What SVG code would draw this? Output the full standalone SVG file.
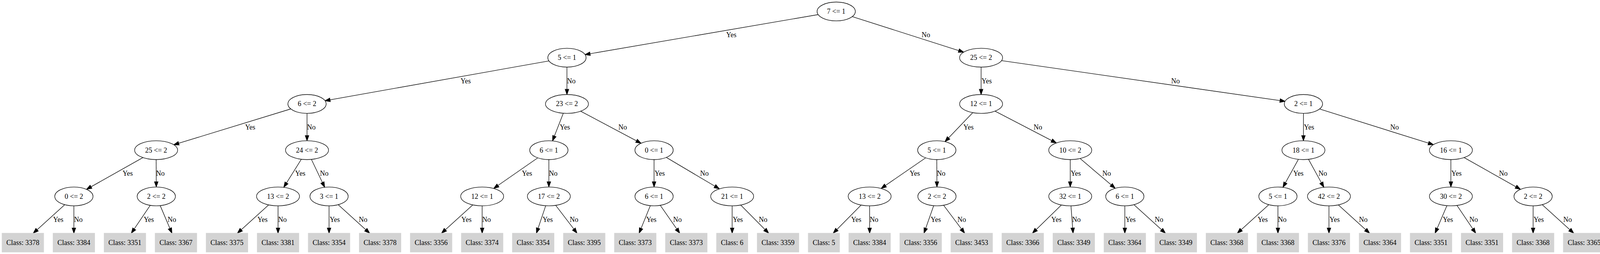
<svg xmlns="http://www.w3.org/2000/svg" width="4114" height="649" viewBox="0 0 4114 649">
<style>
.n ellipse{fill:#ffffff;stroke:#000000;stroke-width:1.33}
.l rect{fill:#d3d3d3;stroke:#d3d3d3;stroke-width:1.33}
text{font-family:"Liberation Serif","Times New Roman",serif;font-size:18px;fill:#000000;text-anchor:middle}
#edges line{stroke:#000000;stroke-width:1.33;fill:none;marker-end:url(#ah)}
</style>
<defs>
<marker id="ah" markerUnits="userSpaceOnUse" viewBox="-2 -7 18 14" markerWidth="18" markerHeight="14" refX="13.33" refY="0" orient="auto" overflow="visible">
<path d="M0,-4.67 L13.33,0 L0,4.67 Z" fill="#000000" stroke="#000000" stroke-width="1.33"/>
</marker>
</defs>
<rect x="0" y="0" width="4114" height="649" fill="#ffffff"/>
<g transform="matrix(1 0 0 1.002376 0 0.0606)">
<g id="edges">
<line x1="2094.7" y1="37.07" x2="1497.4" y2="139.18"/>
<line x1="2181.6" y1="42.2" x2="2467.2" y2="132.94"/>
<line x1="1405.6" y1="155.17" x2="831.8" y2="256.78"/>
<line x1="1451.4" y1="171.05" x2="1451.4" y2="240.9"/>
<line x1="2511.6" y1="171.05" x2="2511.6" y2="240.9"/>
<line x1="2563.8" y1="154.5" x2="3290.0" y2="258.22"/>
<line x1="744.6" y1="277.53" x2="444.7" y2="369.01"/>
<line x1="786" y1="288.9" x2="786" y2="358.75"/>
<line x1="1442.1" y1="288.55" x2="1414.4" y2="359.19"/>
<line x1="1486.4" y1="283.39" x2="1641.2" y2="365.2"/>
<line x1="2490.3" y1="287.02" x2="2419.1" y2="361.06"/>
<line x1="2547.1" y1="283.22" x2="2704.3" y2="364.43"/>
<line x1="3336.8" y1="288.9" x2="3336.8" y2="358.75"/>
<line x1="3377.9" y1="277.74" x2="3669.6" y2="368.8"/>
<line x1="365.9" y1="401.67" x2="221.4" y2="482.59"/>
<line x1="399.7" y1="406.75" x2="400.1" y2="476.6"/>
<line x1="771.4" y1="405.89" x2="726.4" y2="477.46"/>
<line x1="797.2" y1="406.24" x2="831.2" y2="477.24"/>
<line x1="1376.8" y1="402.28" x2="1263.8" y2="480.32"/>
<line x1="1405.1" y1="406.75" x2="1405.1" y2="476.6"/>
<line x1="1674.4" y1="406.75" x2="1674.4" y2="476.6"/>
<line x1="1705.6" y1="401.16" x2="1841.6" y2="481.32"/>
<line x1="2369.8" y1="402.23" x2="2255.7" y2="480.37"/>
<line x1="2398.2" y1="406.75" x2="2398.6" y2="476.6"/>
<line x1="2739.8" y1="406.75" x2="2739.8" y2="476.6"/>
<line x1="2765.1" y1="404.05" x2="2854.9" y2="479.89"/>
<line x1="3323.9" y1="406.08" x2="3284.2" y2="477.44"/>
<line x1="3349.8" y1="406.07" x2="3389.1" y2="477.28"/>
<line x1="3714.3" y1="406.75" x2="3714.3" y2="476.6"/>
<line x1="3748.1" y1="401.66" x2="3892.5" y2="482.59"/>
<line x1="165.8" y1="521.66" x2="85.1" y2="594.45"/>
<line x1="189.15" y1="524.6" x2="189.15" y2="594.45"/>
<line x1="384.6" y1="523.35" x2="336.2" y2="594.45"/>
<line x1="410.1" y1="524.08" x2="440.2" y2="594.45"/>
<line x1="687.8" y1="522.2" x2="607.7" y2="594.45"/>
<line x1="711.75" y1="524.6" x2="711.75" y2="594.45"/>
<line x1="842.4" y1="524.6" x2="842.4" y2="594.45"/>
<line x1="865.75" y1="521.66" x2="946.4" y2="594.45"/>
<line x1="1210.4" y1="522.2" x2="1130.3" y2="594.45"/>
<line x1="1234.35" y1="524.6" x2="1234.35" y2="594.45"/>
<line x1="1397.0" y1="524.34" x2="1373.2" y2="594.45"/>
<line x1="1422.6" y1="523.35" x2="1477.2" y2="594.45"/>
<line x1="1664.8" y1="524.13" x2="1636.1" y2="594.45"/>
<line x1="1690.3" y1="523.28" x2="1740.1" y2="594.45"/>
<line x1="1874.35" y1="524.6" x2="1874.35" y2="594.45"/>
<line x1="1896.3" y1="522.61" x2="1967.8" y2="594.45"/>
<line x1="2204.4" y1="522.61" x2="2133.0" y2="594.45"/>
<line x1="2226.3" y1="524.6" x2="2226.3" y2="594.45"/>
<line x1="2390.2" y1="524.24" x2="2365.4" y2="594.45"/>
<line x1="2415.6" y1="523.1" x2="2469.5" y2="594.45"/>
<line x1="2717.2" y1="522.48" x2="2643.0" y2="594.45"/>
<line x1="2741.65" y1="524.59" x2="2747.05" y2="594.45"/>
<line x1="2879.55" y1="524.6" x2="2879.55" y2="594.45"/>
<line x1="2902.9" y1="521.66" x2="2983.6" y2="594.45"/>
<line x1="3248.15" y1="521.66" x2="3167.5" y2="594.45"/>
<line x1="3271.5" y1="524.6" x2="3271.5" y2="594.45"/>
<line x1="3402.15" y1="524.6" x2="3402.15" y2="594.45"/>
<line x1="3426.1" y1="522.2" x2="3506.2" y2="594.45"/>
<line x1="3704.1" y1="524.18" x2="3673.8" y2="594.45"/>
<line x1="3729.9" y1="523.62" x2="3777.85" y2="594.45"/>
<line x1="3924.75" y1="524.6" x2="3924.75" y2="594.45"/>
<line x1="3948.1" y1="521.66" x2="4028.8" y2="594.45"/>
</g>
<g id="edge-labels">
<text x="1872.1" y="94.3">Yes</text>
<text x="2370.3" y="94.3">No</text>
<text x="1192.2" y="212.1">Yes</text>
<text x="1462.5" y="212.1">No</text>
<text x="2525.8" y="212.1">Yes</text>
<text x="3009.2" y="212.1">No</text>
<text x="640.5" y="330">Yes</text>
<text x="797.1" y="330">No</text>
<text x="1446.1" y="330">Yes</text>
<text x="1593.9" y="330">No</text>
<text x="2479.4" y="330">Yes</text>
<text x="2657.1" y="330">No</text>
<text x="3351.2" y="330">Yes</text>
<text x="3570.1" y="330">No</text>
<text x="326.8" y="447.8">Yes</text>
<text x="410.6" y="447.8">No</text>
<text x="768.6" y="447.8">Yes</text>
<text x="830" y="447.8">No</text>
<text x="1349.2" y="447.8">Yes</text>
<text x="1416.2" y="447.8">No</text>
<text x="1688.8" y="447.8">Yes</text>
<text x="1803.2" y="447.8">No</text>
<text x="2341.8" y="447.8">Yes</text>
<text x="2409.3" y="447.8">No</text>
<text x="2754" y="447.8">Yes</text>
<text x="2833.1" y="447.8">No</text>
<text x="3323.8" y="447.8">Yes</text>
<text x="3386.2" y="447.8">No</text>
<text x="3728.6" y="447.8">Yes</text>
<text x="3848.6" y="447.8">No</text>
<text x="149.1" y="565.7">Yes</text>
<text x="200.4" y="565.7">No</text>
<text x="381" y="565.7">Yes</text>
<text x="440.1" y="565.7">No</text>
<text x="672" y="565.7">Yes</text>
<text x="722.9" y="565.7">No</text>
<text x="857" y="565.7">Yes</text>
<text x="929.5" y="565.7">No</text>
<text x="1194.2" y="565.7">Yes</text>
<text x="1245.5" y="565.7">No</text>
<text x="1402.1" y="565.7">Yes</text>
<text x="1469.4" y="565.7">No</text>
<text x="1667.5" y="565.7">Yes</text>
<text x="1734.2" y="565.7">No</text>
<text x="1888.8" y="565.7">Yes</text>
<text x="1953.6" y="565.7">No</text>
<text x="2192" y="565.7">Yes</text>
<text x="2237.4" y="565.7">No</text>
<text x="2395.6" y="565.7">Yes</text>
<text x="2462" y="565.7">No</text>
<text x="2704.4" y="565.7">Yes</text>
<text x="2755.6" y="565.7">No</text>
<text x="2894.1" y="565.7">Yes</text>
<text x="2967.1" y="565.7">No</text>
<text x="3232.5" y="565.7">Yes</text>
<text x="3282.6" y="565.7">No</text>
<text x="3416.6" y="565.7">Yes</text>
<text x="3490" y="565.7">No</text>
<text x="3706.7" y="565.7">Yes</text>
<text x="3772.4" y="565.7">No</text>
<text x="3939.2" y="565.7">Yes</text>
<text x="4012.9" y="565.7">No</text>
</g>
<g id="n0" class="n"><ellipse cx="2140.7" cy="29.2" rx="49" ry="24"/><text x="2140.7" y="35">7 &lt;= 1</text></g>
<g id="n1" class="n"><ellipse cx="1451.4" cy="147.05" rx="49" ry="24"/><text x="1451.4" y="152.85">5 &lt;= 1</text></g>
<g id="n2" class="n"><ellipse cx="2511.6" cy="147.05" rx="55" ry="24"/><text x="2511.6" y="152.85">25 &lt;= 2</text></g>
<g id="n3" class="n"><ellipse cx="786" cy="264.9" rx="49" ry="24"/><text x="786" y="270.7">6 &lt;= 2</text></g>
<g id="n4" class="n"><ellipse cx="1451.4" cy="264.9" rx="55" ry="24"/><text x="1451.4" y="270.7">23 &lt;= 2</text></g>
<g id="n5" class="n"><ellipse cx="2511.6" cy="264.9" rx="55" ry="24"/><text x="2511.6" y="270.7">12 &lt;= 1</text></g>
<g id="n6" class="n"><ellipse cx="3336.8" cy="264.9" rx="49" ry="24"/><text x="3336.8" y="270.7">2 &lt;= 1</text></g>
<g id="n7" class="n"><ellipse cx="399.7" cy="382.75" rx="55" ry="24"/><text x="399.7" y="388.55">25 &lt;= 2</text></g>
<g id="n8" class="n"><ellipse cx="786" cy="382.75" rx="55" ry="24"/><text x="786" y="388.55">24 &lt;= 2</text></g>
<g id="n9" class="n"><ellipse cx="1405.1" cy="382.75" rx="49" ry="24"/><text x="1405.1" y="388.55">6 &lt;= 1</text></g>
<g id="n10" class="n"><ellipse cx="1674.4" cy="382.75" rx="49" ry="24"/><text x="1674.4" y="388.55">0 &lt;= 1</text></g>
<g id="n11" class="n"><ellipse cx="2398.2" cy="382.75" rx="49" ry="24"/><text x="2398.2" y="388.55">5 &lt;= 1</text></g>
<g id="n12" class="n"><ellipse cx="2739.8" cy="382.75" rx="55" ry="24"/><text x="2739.8" y="388.55">10 &lt;= 2</text></g>
<g id="n13" class="n"><ellipse cx="3336.8" cy="382.75" rx="55" ry="24"/><text x="3336.8" y="388.55">18 &lt;= 1</text></g>
<g id="n14" class="n"><ellipse cx="3714.3" cy="382.75" rx="55" ry="24"/><text x="3714.3" y="388.55">16 &lt;= 1</text></g>
<g id="n15" class="n"><ellipse cx="189.15" cy="500.6" rx="49" ry="24"/><text x="189.15" y="506.4">0 &lt;= 2</text></g>
<g id="n16" class="n"><ellipse cx="400.1" cy="500.6" rx="49" ry="24"/><text x="400.1" y="506.4">2 &lt;= 2</text></g>
<g id="n17" class="n"><ellipse cx="711.75" cy="500.6" rx="55" ry="24"/><text x="711.75" y="506.4">13 &lt;= 2</text></g>
<g id="n18" class="n"><ellipse cx="842.4" cy="500.6" rx="49" ry="24"/><text x="842.4" y="506.4">3 &lt;= 1</text></g>
<g id="n19" class="n"><ellipse cx="1234.35" cy="500.6" rx="55" ry="24"/><text x="1234.35" y="506.4">12 &lt;= 1</text></g>
<g id="n20" class="n"><ellipse cx="1405.1" cy="500.6" rx="55" ry="24"/><text x="1405.1" y="506.4">17 &lt;= 2</text></g>
<g id="n21" class="n"><ellipse cx="1674.4" cy="500.6" rx="49" ry="24"/><text x="1674.4" y="506.4">6 &lt;= 1</text></g>
<g id="n22" class="n"><ellipse cx="1874.35" cy="500.6" rx="55" ry="24"/><text x="1874.35" y="506.4">21 &lt;= 1</text></g>
<g id="n23" class="n"><ellipse cx="2226.3" cy="500.6" rx="55" ry="24"/><text x="2226.3" y="506.4">13 &lt;= 2</text></g>
<g id="n24" class="n"><ellipse cx="2398.6" cy="500.6" rx="49" ry="24"/><text x="2398.6" y="506.4">2 &lt;= 2</text></g>
<g id="n25" class="n"><ellipse cx="2739.8" cy="500.6" rx="55" ry="24"/><text x="2739.8" y="506.4">32 &lt;= 1</text></g>
<g id="n26" class="n"><ellipse cx="2879.55" cy="500.6" rx="49" ry="24"/><text x="2879.55" y="506.4">6 &lt;= 1</text></g>
<g id="n27" class="n"><ellipse cx="3271.5" cy="500.6" rx="49" ry="24"/><text x="3271.5" y="506.4">5 &lt;= 1</text></g>
<g id="n28" class="n"><ellipse cx="3402.15" cy="500.6" rx="55" ry="24"/><text x="3402.15" y="506.4">42 &lt;= 2</text></g>
<g id="n29" class="n"><ellipse cx="3714.3" cy="500.6" rx="55" ry="24"/><text x="3714.3" y="506.4">30 &lt;= 2</text></g>
<g id="n30" class="n"><ellipse cx="3924.75" cy="500.6" rx="49" ry="24"/><text x="3924.75" y="506.4">2 &lt;= 2</text></g>
<g id="leaf0" class="l"><rect x="5.25" y="594.45" width="106.5" height="48"/><text x="58.5" y="624.25">Class: 3378</text></g>
<g id="leaf1" class="l"><rect x="135.9" y="594.45" width="106.5" height="48"/><text x="189.15" y="624.25">Class: 3384</text></g>
<g id="leaf2" class="l"><rect x="266.55" y="594.45" width="106.5" height="48"/><text x="319.8" y="624.25">Class: 3351</text></g>
<g id="leaf3" class="l"><rect x="397.2" y="594.45" width="106.5" height="48"/><text x="450.45" y="624.25">Class: 3367</text></g>
<g id="leaf4" class="l"><rect x="527.85" y="594.45" width="106.5" height="48"/><text x="581.1" y="624.25">Class: 3375</text></g>
<g id="leaf5" class="l"><rect x="658.5" y="594.45" width="106.5" height="48"/><text x="711.75" y="624.25">Class: 3381</text></g>
<g id="leaf6" class="l"><rect x="789.15" y="594.45" width="106.5" height="48"/><text x="842.4" y="624.25">Class: 3354</text></g>
<g id="leaf7" class="l"><rect x="919.8" y="594.45" width="106.5" height="48"/><text x="973.05" y="624.25">Class: 3378</text></g>
<g id="leaf8" class="l"><rect x="1050.45" y="594.45" width="106.5" height="48"/><text x="1103.7" y="624.25">Class: 3356</text></g>
<g id="leaf9" class="l"><rect x="1181.1" y="594.45" width="106.5" height="48"/><text x="1234.35" y="624.25">Class: 3374</text></g>
<g id="leaf10" class="l"><rect x="1311.75" y="594.45" width="106.5" height="48"/><text x="1365" y="624.25">Class: 3354</text></g>
<g id="leaf11" class="l"><rect x="1442.4" y="594.45" width="106.5" height="48"/><text x="1495.65" y="624.25">Class: 3395</text></g>
<g id="leaf12" class="l"><rect x="1573.05" y="594.45" width="106.5" height="48"/><text x="1626.3" y="624.25">Class: 3373</text></g>
<g id="leaf13" class="l"><rect x="1703.7" y="594.45" width="106.5" height="48"/><text x="1756.95" y="624.25">Class: 3373</text></g>
<g id="leaf14" class="l"><rect x="1834.35" y="594.45" width="80" height="48"/><text x="1874.35" y="624.25">Class: 6</text></g>
<g id="leaf15" class="l"><rect x="1938.5" y="594.45" width="106.5" height="48"/><text x="1991.75" y="624.25">Class: 3359</text></g>
<g id="leaf16" class="l"><rect x="2069.15" y="594.45" width="80" height="48"/><text x="2109.15" y="624.25">Class: 5</text></g>
<g id="leaf17" class="l"><rect x="2173.05" y="594.45" width="106.5" height="48"/><text x="2226.3" y="624.25">Class: 3384</text></g>
<g id="leaf18" class="l"><rect x="2303.7" y="594.45" width="106.5" height="48"/><text x="2356.95" y="624.25">Class: 3356</text></g>
<g id="leaf19" class="l"><rect x="2434.35" y="594.45" width="106.5" height="48"/><text x="2487.6" y="624.25">Class: 3453</text></g>
<g id="leaf20" class="l"><rect x="2565" y="594.45" width="106.5" height="48"/><text x="2618.25" y="624.25">Class: 3366</text></g>
<g id="leaf21" class="l"><rect x="2695.65" y="594.45" width="106.5" height="48"/><text x="2748.9" y="624.25">Class: 3349</text></g>
<g id="leaf22" class="l"><rect x="2826.3" y="594.45" width="106.5" height="48"/><text x="2879.55" y="624.25">Class: 3364</text></g>
<g id="leaf23" class="l"><rect x="2956.95" y="594.45" width="106.5" height="48"/><text x="3010.2" y="624.25">Class: 3349</text></g>
<g id="leaf24" class="l"><rect x="3087.6" y="594.45" width="106.5" height="48"/><text x="3140.85" y="624.25">Class: 3368</text></g>
<g id="leaf25" class="l"><rect x="3218.25" y="594.45" width="106.5" height="48"/><text x="3271.5" y="624.25">Class: 3368</text></g>
<g id="leaf26" class="l"><rect x="3348.9" y="594.45" width="106.5" height="48"/><text x="3402.15" y="624.25">Class: 3376</text></g>
<g id="leaf27" class="l"><rect x="3479.55" y="594.45" width="106.5" height="48"/><text x="3532.8" y="624.25">Class: 3364</text></g>
<g id="leaf28" class="l"><rect x="3610.2" y="594.45" width="106.5" height="48"/><text x="3663.45" y="624.25">Class: 3351</text></g>
<g id="leaf29" class="l"><rect x="3740.85" y="594.45" width="106.5" height="48"/><text x="3794.1" y="624.25">Class: 3351</text></g>
<g id="leaf30" class="l"><rect x="3871.5" y="594.45" width="106.5" height="48"/><text x="3924.75" y="624.25">Class: 3368</text></g>
<g id="leaf31" class="l"><rect x="4002.15" y="594.45" width="106.5" height="48"/><text x="4055.4" y="624.25">Class: 3365</text></g>
</g>
</svg>
